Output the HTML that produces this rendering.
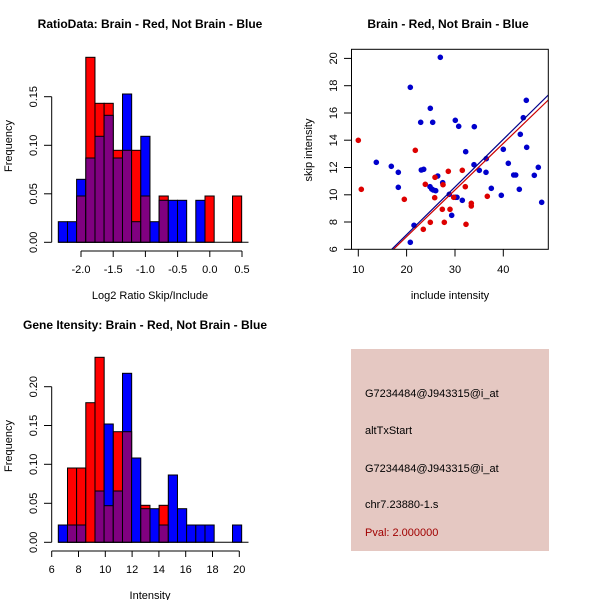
<!DOCTYPE html>
<html><head><meta charset="utf-8"><style>
html,body{margin:0;padding:0;background:#fff;}
svg{display:block;font-family:"Liberation Sans",Arial,sans-serif;}
</style></head><body>
<svg width="600" height="600" viewBox="0 0 600 600" xmlns="http://www.w3.org/2000/svg">
<rect width="600" height="600" fill="#fff"/>
<!-- ===== Top-left histogram ===== -->
<text x="150" y="28" font-size="12" font-weight="bold" text-anchor="middle">RatioData: Brain - Red, Not Brain - Blue</text>
<g stroke="#000" stroke-width="1">
<!-- bin edges x = 58.3 + 9.17 i ; baseline 242.3 -->
<rect x="58.3" y="221.7" width="9.17" height="20.6" fill="#0000ff"/>
<rect x="67.5" y="221.7" width="9.17" height="20.6" fill="#0000ff"/>
<rect x="76.6" y="179.3" width="9.17" height="63" fill="#0000ff"/>
<rect x="76.6" y="196" width="9.17" height="46.3" fill="#800080"/>
<rect x="85.8" y="57.3" width="9.17" height="185" fill="#ff0000"/>
<rect x="85.8" y="158" width="9.17" height="84.3" fill="#800080"/>
<rect x="95" y="103.3" width="9.17" height="139" fill="#ff0000"/>
<rect x="95" y="136.3" width="9.17" height="106" fill="#800080"/>
<rect x="104.1" y="103.3" width="9.17" height="139" fill="#ff0000"/>
<rect x="104.1" y="115.3" width="9.17" height="127" fill="#800080"/>
<rect x="113.3" y="150.3" width="9.17" height="92" fill="#ff0000"/>
<rect x="113.3" y="158" width="9.17" height="84.3" fill="#800080"/>
<rect x="122.5" y="94" width="9.17" height="148.3" fill="#0000ff"/>
<rect x="122.5" y="150.3" width="9.17" height="92" fill="#800080"/>
<rect x="131.6" y="150.3" width="9.17" height="92" fill="#ff0000"/>
<rect x="131.6" y="221.7" width="9.17" height="20.6" fill="#800080"/>
<rect x="140.8" y="136.3" width="9.17" height="106" fill="#0000ff"/>
<rect x="140.8" y="196" width="9.17" height="46.3" fill="#800080"/>
<rect x="150" y="221.7" width="9.17" height="20.6" fill="#0000ff"/>
<rect x="159.1" y="196" width="9.17" height="46.3" fill="#ff0000"/>
<rect x="159.1" y="200.3" width="9.17" height="42" fill="#800080"/>
<rect x="168.3" y="200.3" width="9.17" height="42" fill="#0000ff"/>
<rect x="177.5" y="200.3" width="9.17" height="42" fill="#0000ff"/>
<rect x="195.8" y="200.3" width="9.17" height="42" fill="#0000ff"/>
<rect x="205" y="196" width="9.17" height="46.3" fill="#ff0000"/>
<rect x="232.5" y="196" width="9.17" height="46.3" fill="#ff0000"/>
<line x1="58.3" y1="242.3" x2="248.5" y2="242.3"/>
<!-- y axis -->
<line x1="51.7" y1="242.3" x2="51.7" y2="96.7"/>
<line x1="44" y1="242.3" x2="51.7" y2="242.3"/>
<line x1="44" y1="193.8" x2="51.7" y2="193.8"/>
<line x1="44" y1="145.3" x2="51.7" y2="145.3"/>
<line x1="44" y1="96.7" x2="51.7" y2="96.7"/>
<!-- x axis -->
<line x1="81" y1="251" x2="242" y2="251"/>
<line x1="81" y1="251" x2="81" y2="257"/>
<line x1="113.2" y1="251" x2="113.2" y2="257"/>
<line x1="145.4" y1="251" x2="145.4" y2="257"/>
<line x1="177.6" y1="251" x2="177.6" y2="257"/>
<line x1="209.8" y1="251" x2="209.8" y2="257"/>
<line x1="242" y1="251" x2="242" y2="257"/>
</g>
<g font-size="11" text-anchor="middle">
<text transform="translate(37,242.3) rotate(-90)">0.00</text>
<text transform="translate(37,193.8) rotate(-90)">0.05</text>
<text transform="translate(37,145.3) rotate(-90)">0.10</text>
<text transform="translate(37,96.7) rotate(-90)">0.15</text>
<text x="81" y="273">-2.0</text>
<text x="113.2" y="273">-1.5</text>
<text x="145.4" y="273">-1.0</text>
<text x="177.6" y="273">-0.5</text>
<text x="209.8" y="273">0.0</text>
<text x="242" y="273">0.5</text>
<text x="150" y="299">Log2 Ratio Skip/Include</text>
<text transform="translate(12,146) rotate(-90)">Frequency</text>
</g>

<!-- ===== Bottom-left histogram ===== -->
<text x="145" y="329" font-size="12" font-weight="bold" text-anchor="middle">Gene Itensity: Brain - Red, Not Brain - Blue</text>
<g stroke="#000" stroke-width="1">
<rect x="58.3" y="525" width="9.17" height="17.3" fill="#0000ff"/>
<rect x="67.5" y="468" width="9.17" height="74.3" fill="#ff0000"/>
<rect x="67.5" y="525" width="9.17" height="17.3" fill="#800080"/>
<rect x="76.6" y="468" width="9.17" height="74.3" fill="#ff0000"/>
<rect x="76.6" y="525" width="9.17" height="17.3" fill="#800080"/>
<rect x="85.8" y="402.7" width="9.17" height="139.6" fill="#ff0000"/>
<rect x="95" y="357.3" width="9.17" height="185" fill="#ff0000"/>
<rect x="95" y="491" width="9.17" height="51.3" fill="#800080"/>
<rect x="104.1" y="424" width="9.17" height="118.3" fill="#0000ff"/>
<rect x="104.1" y="505.7" width="9.17" height="36.6" fill="#800080"/>
<rect x="113.3" y="431.7" width="9.17" height="110.6" fill="#ff0000"/>
<rect x="113.3" y="491" width="9.17" height="51.3" fill="#800080"/>
<rect x="122.5" y="373.3" width="9.17" height="169" fill="#0000ff"/>
<rect x="122.5" y="431.7" width="9.17" height="110.6" fill="#800080"/>
<rect x="131.6" y="458" width="9.17" height="84.3" fill="#0000ff"/>
<rect x="140.8" y="505.3" width="9.17" height="37" fill="#ff0000"/>
<rect x="140.8" y="508.7" width="9.17" height="33.6" fill="#800080"/>
<rect x="150" y="508.7" width="9.17" height="33.6" fill="#0000ff"/>
<rect x="159.1" y="505.3" width="9.17" height="37" fill="#ff0000"/>
<rect x="159.1" y="525" width="9.17" height="17.3" fill="#800080"/>
<rect x="168.3" y="475" width="9.17" height="67.3" fill="#0000ff"/>
<rect x="177.5" y="508.7" width="9.17" height="33.6" fill="#0000ff"/>
<rect x="186.6" y="525" width="9.17" height="17.3" fill="#0000ff"/>
<rect x="195.8" y="525" width="9.17" height="17.3" fill="#0000ff"/>
<rect x="205" y="525" width="9.17" height="17.3" fill="#0000ff"/>
<rect x="232.5" y="525" width="9.17" height="17.3" fill="#0000ff"/>
<line x1="58.3" y1="542.3" x2="248.5" y2="542.3"/>
<line x1="51.7" y1="542.3" x2="51.7" y2="386.7"/>
<line x1="44" y1="542.3" x2="51.7" y2="542.3"/>
<line x1="44" y1="503.3" x2="51.7" y2="503.3"/>
<line x1="44" y1="464.3" x2="51.7" y2="464.3"/>
<line x1="44" y1="425.5" x2="51.7" y2="425.5"/>
<line x1="44" y1="386.7" x2="51.7" y2="386.7"/>
<line x1="51.7" y1="551" x2="239.3" y2="551"/>
<line x1="51.7" y1="551" x2="51.7" y2="557"/>
<line x1="78.5" y1="551" x2="78.5" y2="557"/>
<line x1="105.3" y1="551" x2="105.3" y2="557"/>
<line x1="132.1" y1="551" x2="132.1" y2="557"/>
<line x1="158.9" y1="551" x2="158.9" y2="557"/>
<line x1="185.7" y1="551" x2="185.7" y2="557"/>
<line x1="212.5" y1="551" x2="212.5" y2="557"/>
<line x1="239.3" y1="551" x2="239.3" y2="557"/>
</g>
<g font-size="11" text-anchor="middle">
<text transform="translate(37,542.3) rotate(-90)">0.00</text>
<text transform="translate(37,503.3) rotate(-90)">0.05</text>
<text transform="translate(37,464.3) rotate(-90)">0.10</text>
<text transform="translate(37,425.5) rotate(-90)">0.15</text>
<text transform="translate(37,386.7) rotate(-90)">0.20</text>
<text x="51.7" y="573">6</text>
<text x="78.5" y="573">8</text>
<text x="105.3" y="573">10</text>
<text x="132.1" y="573">12</text>
<text x="158.9" y="573">14</text>
<text x="185.7" y="573">16</text>
<text x="212.5" y="573">18</text>
<text x="239.3" y="573">20</text>
<text x="150" y="599">Intensity</text>
<text transform="translate(12,446) rotate(-90)">Frequency</text>
</g>

<!-- ===== Scatter ===== -->
<text x="448" y="28" font-size="12" font-weight="bold" text-anchor="middle">Brain - Red, Not Brain - Blue</text>
<defs><clipPath id="cp"><rect x="351.5" y="49.3" width="196.8" height="200"/></clipPath></defs>
<g fill="#0000cc">
<circle cx="376.3" cy="162.3" r="2.8"/><circle cx="391.3" cy="166.3" r="2.8"/><circle cx="398.3" cy="172.3" r="2.8"/>
<circle cx="398.3" cy="187.3" r="2.8"/><circle cx="410.3" cy="87.3" r="2.8"/><circle cx="414" cy="225.3" r="2.8"/>
<circle cx="410.3" cy="242.3" r="2.8"/><circle cx="420.7" cy="122.3" r="2.8"/><circle cx="421.3" cy="170" r="2.8"/>
<circle cx="423.7" cy="169.3" r="2.8"/><circle cx="430.3" cy="108.3" r="2.8"/><circle cx="432.7" cy="122.3" r="2.8"/>
<circle cx="430" cy="186.7" r="2.8"/><circle cx="431.7" cy="189" r="2.8"/><circle cx="433.3" cy="190" r="2.8"/>
<circle cx="435.7" cy="190.7" r="2.8"/><circle cx="437.7" cy="176" r="2.8"/><circle cx="440.3" cy="57.3" r="2.8"/>
<circle cx="442.7" cy="182.7" r="2.8"/><circle cx="449.3" cy="194.3" r="2.8"/><circle cx="451.7" cy="215.3" r="2.8"/>
<circle cx="455.3" cy="197.3" r="2.8"/><circle cx="457" cy="197.3" r="2.8"/><circle cx="455.3" cy="120.3" r="2.8"/>
<circle cx="458.7" cy="126.3" r="2.8"/><circle cx="462.3" cy="200.3" r="2.8"/><circle cx="465.7" cy="151.7" r="2.8"/>
<circle cx="474" cy="164.7" r="2.8"/><circle cx="474.3" cy="126.7" r="2.8"/><circle cx="479.3" cy="170.3" r="2.8"/>
<circle cx="486" cy="172.3" r="2.8"/><circle cx="486.3" cy="158.7" r="2.8"/><circle cx="491.3" cy="188.3" r="2.8"/>
<circle cx="501.3" cy="195.3" r="2.8"/><circle cx="503.3" cy="149.3" r="2.8"/><circle cx="508.3" cy="163.3" r="2.8"/>
<circle cx="513.7" cy="175" r="2.8"/><circle cx="515.7" cy="175" r="2.8"/><circle cx="519.3" cy="189.3" r="2.8"/>
<circle cx="520.3" cy="134.3" r="2.8"/><circle cx="523.3" cy="117.7" r="2.8"/><circle cx="526.3" cy="100.3" r="2.8"/>
<circle cx="526.7" cy="147.3" r="2.8"/><circle cx="534.3" cy="175.3" r="2.8"/><circle cx="538.3" cy="167.3" r="2.8"/>
<circle cx="541.7" cy="202.3" r="2.8"/>
</g>
<g fill="#dd0000">
<circle cx="358.3" cy="140.3" r="2.8"/><circle cx="361.3" cy="189.3" r="2.8"/><circle cx="404.3" cy="199.3" r="2.8"/>
<circle cx="415.3" cy="150.3" r="2.8"/><circle cx="423.3" cy="229.3" r="2.8"/><circle cx="425.3" cy="184.3" r="2.8"/>
<circle cx="430.3" cy="222.3" r="2.8"/><circle cx="434.7" cy="197.7" r="2.8"/><circle cx="435" cy="177.3" r="2.8"/>
<circle cx="442.3" cy="209.3" r="2.8"/><circle cx="443" cy="184.7" r="2.8"/><circle cx="444.3" cy="222.3" r="2.8"/>
<circle cx="448.3" cy="171.3" r="2.8"/><circle cx="450" cy="209.3" r="2.8"/><circle cx="453.7" cy="197.3" r="2.8"/>
<circle cx="462.3" cy="170.3" r="2.8"/><circle cx="465.3" cy="186.7" r="2.8"/><circle cx="466" cy="224.3" r="2.8"/>
<circle cx="471.3" cy="203.3" r="2.8"/><circle cx="471.3" cy="206" r="2.8"/><circle cx="487.3" cy="196.3" r="2.8"/>
</g>
<g clip-path="url(#cp)" stroke-width="1.2">
<line x1="391.7" y1="251" x2="548.3" y2="100" stroke="#cc0000"/>
<line x1="390" y1="251" x2="548.3" y2="95" stroke="#00008b"/>
</g>
<g stroke="#000" stroke-width="1" fill="none">
<rect x="351.5" y="49.3" width="196.8" height="200"/>
<line x1="344" y1="249.3" x2="351.5" y2="249.3"/><line x1="344" y1="222" x2="351.5" y2="222"/>
<line x1="344" y1="194.8" x2="351.5" y2="194.8"/><line x1="344" y1="167.5" x2="351.5" y2="167.5"/>
<line x1="344" y1="140.2" x2="351.5" y2="140.2"/><line x1="344" y1="113" x2="351.5" y2="113"/>
<line x1="344" y1="85.7" x2="351.5" y2="85.7"/><line x1="344" y1="58.4" x2="351.5" y2="58.4"/>
<line x1="358.3" y1="249.3" x2="358.3" y2="256.5"/><line x1="406.6" y1="249.3" x2="406.6" y2="256.5"/>
<line x1="455" y1="249.3" x2="455" y2="256.5"/><line x1="503.3" y1="249.3" x2="503.3" y2="256.5"/>
</g>
<g font-size="11" text-anchor="middle">
<text transform="translate(337,249.3) rotate(-90)">6</text>
<text transform="translate(337,222) rotate(-90)">8</text>
<text transform="translate(337,194.8) rotate(-90)">10</text>
<text transform="translate(337,167.5) rotate(-90)">12</text>
<text transform="translate(337,140.2) rotate(-90)">14</text>
<text transform="translate(337,113) rotate(-90)">16</text>
<text transform="translate(337,85.7) rotate(-90)">18</text>
<text transform="translate(337,58.4) rotate(-90)">20</text>
<text x="358.3" y="273">10</text>
<text x="406.6" y="273">20</text>
<text x="455" y="273">30</text>
<text x="503.3" y="273">40</text>
<text x="450" y="299">include intensity</text>
<text transform="translate(312,150) rotate(-90)">skip intensity</text>
</g>

<!-- ===== Info panel ===== -->
<rect x="351" y="349" width="198" height="202" fill="#e5c8c2"/>
<g font-size="11">
<text x="365" y="397">G7234484@J943315@i_at</text>
<text x="365" y="434">altTxStart</text>
<text x="365" y="472">G7234484@J943315@i_at</text>
<text x="365" y="508">chr7.23880-1.s</text>
<text x="365" y="536" fill="#a00000">Pval: 2.000000</text>
</g>
</svg>
</body></html>
